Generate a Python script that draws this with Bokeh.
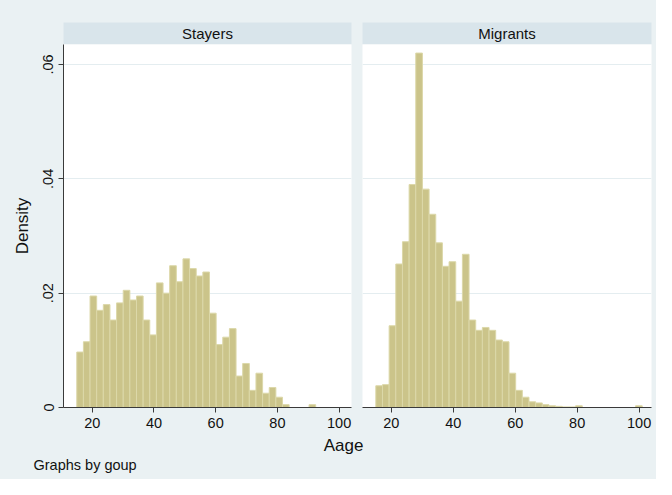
from bokeh.plotting import figure
from bokeh.layouts import column, row
from bokeh.models import Range1d, FixedTicker, CustomJSTickFormatter, Label, ColumnDataSource
from bokeh.embed import file_html
from bokeh.resources import INLINE

# ---- data ----
bin_edges = [15.00, 17.15, 19.30, 21.45, 23.60, 25.75, 27.90, 30.05, 32.20, 34.35,
             36.50, 38.65, 40.80, 42.95, 45.10, 47.25, 49.40, 51.55, 53.70, 55.85,
             58.00, 60.15, 62.30, 64.45, 66.60, 68.75, 70.90, 73.05, 75.20, 77.35,
             79.50, 81.65, 83.80, 85.95, 88.10, 90.25, 92.40, 94.55, 96.70, 98.85,
             101.00]

stayers_density = [0.0097, 0.0115, 0.0195, 0.0170, 0.0180, 0.0153, 0.0183, 0.0205, 0.0188, 0.0195,
                   0.0153, 0.0127, 0.0218, 0.0200, 0.0248, 0.0220, 0.0260, 0.0243, 0.0230, 0.0237,
                   0.0165, 0.0110, 0.0123, 0.0138, 0.0055, 0.0077, 0.0030, 0.0060, 0.0025, 0.0035,
                   0.0018, 0.0005, 0.0, 0.0, 0.0, 0.0005, 0.0, 0.0, 0.0, 0.0]

migrants_density = [0.0038, 0.0040, 0.0143, 0.0251, 0.0290, 0.0390, 0.0620, 0.0382, 0.0338, 0.0288,
                    0.0247, 0.0255, 0.0186, 0.0268, 0.0153, 0.0135, 0.0140, 0.0135, 0.0118, 0.0115,
                    0.0060, 0.0030, 0.0018, 0.0010, 0.0008, 0.0005, 0.0003, 0.0002, 0.0001, 0.0001,
                    0.0003, 0.0, 0.0, 0.0, 0.0, 0.0, 0.0, 0.0, 0.0, 0.0003]

panel_titles = ["Stayers", "Migrants"]
x_ticks = [20, 40, 60, 80, 100]
y_ticks = [0, 0.02, 0.04, 0.06]
x_title = "Aage"
y_title = "Density"
note_text = "Graphs by goup"

# ---- style ----
BG = "#EAF1F3"
STRIP = "#D9E5EB"
BAR_FILL = "#CBC48A"
BAR_LINE = "#DCD8A9"
AXIS = "#3a3a3a"
TXT = "#111111"
GRID = "#E4EDF0"
FONT = "Liberation Sans"

x_range = Range1d(10.7, 104.0)
y_range = Range1d(0, 0.0635)


def style_xaxis(p):
    ax = p.xaxis[0]
    ax.ticker = FixedTicker(ticks=x_ticks, minor_ticks=[])
    ax.axis_line_color = AXIS
    ax.major_tick_line_color = AXIS
    ax.major_tick_in = 0
    ax.major_tick_out = 5
    ax.minor_tick_line_color = None
    ax.major_label_text_font = FONT
    ax.major_label_text_font_size = "14.5px"
    ax.major_label_text_color = TXT
    ax.major_label_standoff = 5


def style_grid(p):
    p.xgrid.visible = False
    p.ygrid.ticker = FixedTicker(ticks=y_ticks[1:], minor_ticks=[])
    p.ygrid.grid_line_color = GRID


def add_bars(p, density):
    src = ColumnDataSource(dict(left=bin_edges[:-1], right=bin_edges[1:],
                                top=density, bottom=[0] * len(density)))
    p.quad(left="left", right="right", top="top", bottom="bottom", source=src,
           fill_color=BAR_FILL, line_color=BAR_LINE, line_width=1)


def make_header(text, w, left, right):
    h = figure(width=w, height=44, x_range=Range1d(0, 1), y_range=Range1d(0, 1),
               x_axis_location=None, y_axis_location=None,
               output_backend="svg", toolbar_location=None,
               min_border_left=left, min_border_right=right,
               min_border_top=22, min_border_bottom=0)
    h.background_fill_color = STRIP
    h.border_fill_color = BG
    h.outline_line_color = None
    h.grid.visible = False
    h.add_layout(Label(x=0.5, y=0.5, text=text, text_align="center", text_baseline="middle",
                       text_font=FONT, text_font_size="15px", text_color=TXT))
    return h


# left panel
p1 = figure(width=356, height=393, x_range=x_range, y_range=y_range,
            output_backend="svg", toolbar_location=None,
            min_border_left=63, min_border_right=5, min_border_top=0, min_border_bottom=30)
p1.background_fill_color = "white"
p1.border_fill_color = BG
p1.outline_line_color = None
style_grid(p1)
style_xaxis(p1)
ya = p1.yaxis[0]
ya.ticker = FixedTicker(ticks=y_ticks, minor_ticks=[])
ya.formatter = CustomJSTickFormatter(code="return tick == 0 ? '0' : tick.toFixed(2).replace(/^0/, '');")
ya.major_label_orientation = "vertical"
ya.axis_line_color = AXIS
ya.major_tick_line_color = AXIS
ya.major_tick_in = 0
ya.major_tick_out = 5
ya.minor_tick_line_color = None
ya.major_label_text_font = FONT
ya.major_label_text_font_size = "14.5px"
ya.major_label_text_color = TXT
ya.major_label_standoff = 5
ya.axis_label = y_title
ya.axis_label_text_font = FONT
ya.axis_label_text_font_size = "17px"
ya.axis_label_text_font_style = "normal"
ya.axis_label_text_color = TXT
ya.axis_label_standoff = 9
add_bars(p1, stayers_density)

# right panel
p2 = figure(width=300, height=393, x_range=x_range, y_range=y_range,
            output_backend="svg", toolbar_location=None,
            min_border_left=6, min_border_right=5, min_border_top=0, min_border_bottom=30)
p2.background_fill_color = "white"
p2.border_fill_color = BG
p2.outline_line_color = None
p2.yaxis.visible = False
style_grid(p2)
style_xaxis(p2)
add_bars(p2, migrants_density)

h1 = make_header(panel_titles[0], 356, 63, 5)
h2 = make_header(panel_titles[1], 300, 6, 5)

# bottom strip with the x title and the note
b = figure(width=656, height=42, x_range=Range1d(0, 656), y_range=Range1d(42, 0),
           x_axis_location=None, y_axis_location=None,
           output_backend="svg", toolbar_location=None,
           min_border_left=0, min_border_right=0, min_border_top=0, min_border_bottom=0)
b.background_fill_color = BG
b.border_fill_color = BG
b.outline_line_color = None
b.grid.visible = False
b.add_layout(Label(x=343, y=8, text=x_title, text_align="center", text_baseline="middle",
                   text_font=FONT, text_font_size="17px", text_color=TXT))
b.add_layout(Label(x=33, y=27, text=note_text, text_align="left", text_baseline="middle",
                   text_font=FONT, text_font_size="14.5px", text_color=TXT))

layout = column(row(h1, h2, styles={"background-color": BG}),
                row(p1, p2, styles={"background-color": BG}),
                b, styles={"background-color": BG})

open("out.html", "w").write(file_html(layout, INLINE))
